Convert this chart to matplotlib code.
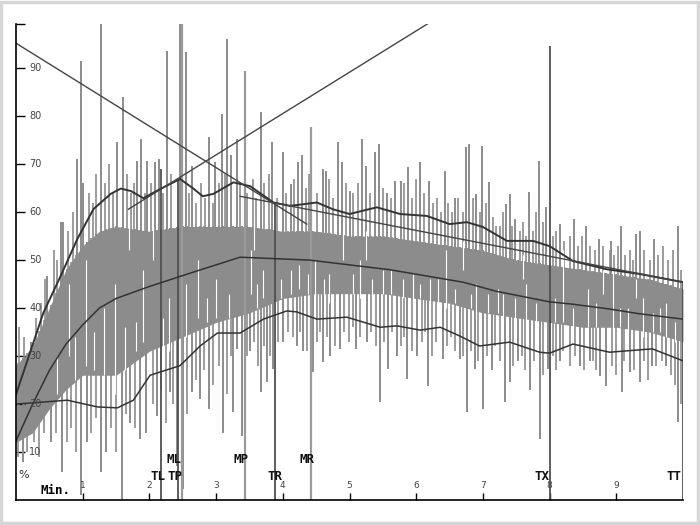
import matplotlib
matplotlib.use("Agg")
import matplotlib.pyplot as plt
import numpy as np
from matplotlib.patches import Rectangle

# smoothed curves (minutes, %)
upper_t = [0.0, 0.41, 0.67, 0.92, 1.16, 1.42, 1.57, 1.72, 1.91, 2.16, 2.46, 2.65, 2.80, 2.96, 3.26,
           3.51, 3.86, 4.11, 4.51, 4.75, 5.0, 5.41, 5.76, 6.16, 6.5, 6.76, 7.0, 7.36, 7.75, 8.0,
           8.35, 8.85, 9.35, 10.0]
upper_v = [22.0, 39.0, 46.7, 54.4, 60.6, 63.8, 64.9, 64.4, 62.9, 64.8, 66.9, 65.0, 63.3, 63.8, 66.2,
           65.4, 62.0, 61.3, 62.0, 60.6, 59.6, 61.0, 59.6, 59.2, 57.5, 57.9, 56.9, 54.0, 54.0, 52.9,
           49.8, 48.1, 47.1, 45.4]

mean_t = [0.0, 0.25, 0.5, 0.75, 1.0, 1.25, 1.5, 2.0, 2.66, 3.36, 4.4, 5.6, 6.7, 7.2, 8.0, 8.35,
          8.9, 9.35, 10.0]
mean_v = [12.3, 20.0, 27.0, 32.5, 36.5, 40.0, 42.0, 44.5, 47.5, 50.6, 50.0, 48.0, 45.4, 43.5, 41.3,
          40.8, 39.8, 38.8, 37.7]

lower_t = [0.0, 0.4, 0.77, 1.22, 1.52, 1.76, 2.01, 2.46, 2.76, 3.02, 3.36, 3.71, 4.06, 4.21, 4.51,
           4.96, 5.2, 5.46, 5.71, 6.06, 6.36, 6.65, 6.95, 7.4, 7.85, 8.0, 8.35, 8.9, 9.54, 10.0]
lower_v = [20.0, 20.4, 20.8, 19.4, 19.2, 20.8, 26.0, 28.0, 32.1, 34.8, 34.8, 37.7, 39.4, 39.2, 37.7,
           38.1, 37.1, 36.0, 36.3, 35.4, 36.0, 34.2, 32.1, 32.9, 30.8, 30.6, 32.5, 30.8, 31.5, 29.0]

# straight trend lines
trend_down = ([0.0, 4.36], [95.2, 57.5])
trend_up = ([1.685, 6.19], [60.6, 99.4])
trend_late = ([3.36, 10.0], [63.3, 45.4])

# dense part of the signal
core_t = [0, 0.25, 0.5, 0.75, 1.0, 1.25, 1.5, 2, 2.5, 3, 3.5, 4, 4.5, 5, 5.5, 6, 6.5, 7, 7.5,
          8, 8.5, 9, 9.5, 10]
core_hi = [28, 32, 40, 48, 53, 56, 57, 56, 57, 57, 57, 56, 56, 55, 55, 54, 53, 52, 50, 49, 48,
           47, 46, 44]
core_lo = [12, 14, 19, 23, 26, 26, 26, 31, 34, 37, 39, 42, 43, 43, 43, 42, 41, 39, 38, 37, 36,
           36, 35, 33]

# big signal peaks (minute, %)
peak_t = [0.22, 0.47, 0.67, 0.7, 0.92, 0.98, 1.01, 1.27, 1.52, 1.6, 1.82, 1.88, 1.97, 2.09, 2.15,
          2.26, 2.46, 2.55, 2.64, 2.9, 2.99, 3.09, 3.17, 3.22, 3.31, 3.67, 3.84, 4.0, 4.12, 4.23,
          4.29, 4.6, 4.65, 4.83, 4.89, 5.0, 5.19, 5.25, 5.38, 5.44, 5.56, 5.68, 5.77, 5.88, 6.06,
          6.19, 6.43, 6.58, 6.74, 6.79, 6.9, 6.99, 7.09, 7.34, 7.4, 7.48, 7.69, 7.84, 7.95, 8.15,
          8.36, 8.54, 8.74, 8.92, 9.07, 9.3, 9.35, 9.57, 9.92]
peak_v = [33, 46.7, 58, 58, 71, 91.5, 66, 99.4, 74.6, 84, 70.6, 75.2, 70.6, 70.4, 71,
          93.5, 99.4, 93.3, 69.6, 75.6, 70.4, 80.4, 96, 72, 75.2, 80.8, 74.6, 72.5, 65.8, 70.4,
          72, 69, 68.5, 74.6, 70.4, 64.5, 75.2, 69.6, 72.5, 74.2, 64, 66.5, 66.5, 69.4, 70.4,
          66.5, 68.5, 63, 73.5, 74.2, 63.8, 73.8, 66.3, 61.7, 63.8, 58.5, 64.2, 70.6, 61, 57.5,
          58.5, 57, 54.4, 54, 57, 55.4, 56, 54.4, 57]

# smaller peaks filling the band
minor_peak_t = [0.05, 0.12, 0.3, 0.37, 0.44, 0.57, 0.62, 0.78, 0.85, 1.1, 1.15, 1.2, 1.33, 1.4,
                1.45, 1.66, 1.72, 1.77, 1.93, 2.03, 2.2, 2.33, 2.6, 2.7, 2.77, 2.84, 2.95, 3.04,
                3.13, 3.36, 3.47, 3.55, 3.6, 3.72, 3.79, 3.92, 4.05, 4.17, 4.35, 4.4, 4.52, 4.7,
                4.76, 4.95, 5.05, 5.13, 5.31, 5.5, 5.62, 5.82, 5.93, 6.0, 6.12, 6.25, 6.31, 6.37,
                6.48, 6.53, 6.63, 6.7, 6.85, 6.95, 7.04, 7.15, 7.2, 7.25, 7.3, 7.44, 7.55, 7.6,
                7.65, 7.75, 7.8, 7.9, 8.05, 8.1, 8.22, 8.3, 8.42, 8.48, 8.6, 8.68, 8.8, 8.9, 8.97,
                9.02, 9.13, 9.2, 9.25, 9.42, 9.5, 9.62, 9.7, 9.78, 9.85, 9.97]
minor_peak_v = [36, 34, 38, 41, 46, 52, 50, 56, 60, 64, 62, 68, 66, 70,
                64, 68, 64, 66, 64, 66, 64, 68, 64, 62, 66, 63, 62, 66,
                68, 66, 64, 67, 63, 66, 68, 63, 64, 67, 65, 68, 64, 67,
                63, 66, 64, 66, 64, 65, 63, 66, 63, 67, 64, 62, 63, 60,
                62, 60, 63, 60, 63, 60, 62, 59, 57, 57, 60, 57, 56, 58,
                55, 56, 60, 58, 55, 56, 54, 55, 53, 55, 53, 52, 53, 52, 51,
                53, 51, 52, 50, 52, 50, 51, 53, 50, 52, 48]

# signal troughs (minute, %)
dip_t = [0.1, 0.52, 0.69, 0.97, 1.06, 1.27, 1.35, 1.59, 1.71, 1.86, 1.95, 2.11, 2.31, 2.42, 2.51,
         2.64, 2.76, 2.89, 3.11, 3.26, 3.31, 3.39, 3.43, 3.51, 3.67, 3.76, 3.86, 4.0, 4.21, 4.3,
         4.45, 4.6, 4.71, 4.86, 5.1, 5.26, 5.46, 5.58, 5.71, 5.86, 6.01, 6.18, 6.4, 6.65, 6.76,
         6.88, 7.0, 7.13, 7.33, 7.4, 7.52, 7.7, 7.85, 7.97, 8.15, 8.45, 8.6, 8.75, 8.85, 9.08,
         9.2, 9.35, 9.53, 9.75, 9.92]
dip_v = [8, 12, 5.8, 1, 12, 5.8, 10, 0.2, 16, 12.7, 14, 17.5, 22.5, 7, 2.3,
         22.5, 21, 19, 14, 18.3, 31.5, 13.3, 23.8, 31, 22.5, 24.6, 27.3, 33, 32, 31,
         26.7, 28.8, 30, 31.5, 31.5, 33, 20.4, 27.3, 30, 25.2, 30, 23.8, 29.4, 29.4, 18.3,
         27.3, 19, 27, 20.4, 24.6, 29, 23, 12.7, 27.3, 29, 28, 29, 25.8, 23.8, 22.5,
         26.7, 24.6, 28, 28, 16.25]

minor_dip_t = [0.03, 0.16, 0.27, 0.35, 0.42, 0.6, 0.76, 0.83, 0.9, 1.13, 1.2, 1.42, 1.5, 1.65,
               1.78, 2.05, 2.18, 2.25, 2.36, 2.57, 2.7, 2.82, 2.95, 3.05, 3.17, 3.22, 3.47, 3.57,
               3.63, 3.72, 3.81, 3.93, 4.08, 4.15, 4.26, 4.36, 4.52, 4.56, 4.67, 4.78, 4.92, 4.99,
               5.05, 5.16, 5.32, 5.39, 5.52, 5.64, 5.77, 5.82, 5.93, 6.08, 6.13, 6.24, 6.3, 6.46,
               6.52, 6.58, 6.7, 6.82, 6.93, 7.06, 7.18, 7.25, 7.45, 7.58, 7.63, 7.76, 7.9, 8.05,
               8.1, 8.2, 8.3, 8.38, 8.52, 8.65, 8.7, 8.93, 9.0, 9.12, 9.27, 9.42, 9.48, 9.6, 9.68,
               9.82, 9.88, 9.97]
minor_dip_v = [9, 10, 12, 9, 14, 14, 12, 15, 10, 14, 17, 15, 10, 18,
               15, 20, 23, 16, 20, 18, 25, 27, 24, 28, 22, 30, 30, 33,
               28, 32, 30, 33, 35, 34, 35, 31, 33, 35, 34, 32, 35, 33,
               36, 34, 35, 32, 33, 35, 32, 34, 31, 33, 35, 30, 33, 32,
               34, 31, 30, 31, 29, 30, 32, 29, 28, 30, 27, 29, 26, 30,
               27, 31, 28, 30, 27, 29, 27, 28, 26, 29, 27, 29, 25, 28, 29,
               26, 24, 20]

# white gaps inside the dense band (minute, from %, to %)
gap_t = [0.8, 1.05, 1.32, 1.48, 1.7, 1.9, 2.05, 2.3, 2.55, 2.73, 3.0, 3.52, 3.57, 3.7, 4.24,
         4.48, 4.7, 4.9, 5.15, 5.25, 5.62, 5.95, 6.2, 6.45, 6.7, 6.9, 7.3, 7.6, 7.65, 8.2, 8.58,
         8.8, 8.95, 9.3, 9.4, 9.75,
         0.62, 0.88, 1.17, 1.63, 1.8, 2.2, 2.86, 3.2, 3.62, 3.98, 4.12, 4.38, 4.62, 5.05, 5.34,
         5.5, 5.8, 6.06, 6.33, 6.58, 6.82, 7.08, 7.22, 7.48, 7.8, 8.08, 8.35, 8.7, 9.05, 9.18,
         9.55, 9.65, 9.88]
gap_lo = [30, 28, 26, 22, 52, 33, 50, 31, 34, 38, 38, 43, 52, 42, 44,
          42, 41, 50, 42, 50, 43, 41, 40, 40, 48, 38, 37, 46, 36, 37, 36,
          43, 35, 42, 34, 34,
          22, 25, 27, 27, 31, 32, 37, 38, 40, 42, 43, 43, 43, 43, 43,
          43, 42, 42, 41, 41, 40, 39, 39, 38, 37, 37, 36, 36, 36, 35,
          35, 35, 33]
gap_hi = [45, 50, 40, 45, 58, 48, 57, 42, 45, 50, 46, 52, 58, 48, 49,
          50, 47, 56, 50, 56, 48, 47, 46, 52, 54, 45, 43, 51, 45, 52, 44,
          48, 48, 46, 42, 41,
          30, 34, 35, 36, 37, 38, 42, 43, 45, 46, 48, 47, 46, 47, 46,
          48, 46, 45, 46, 44, 43, 43, 44, 42, 41, 42, 40, 41, 40, 40,
          39, 40, 37]

# event markers: name, minute, top of line (%), dark line?, label row
marker_names = ["TL", "TP", "ML", "MP", "TR", "MR", "TX", "TT"]
marker_t = [2.18, 2.43, 2.49, 3.43, 3.88, 4.43, 8.0, 10.0]
marker_top = [69.0, 67.0, 99.4, 89.4, 62.0, 77.7, 94.6, 45.4]
marker_dark = [True, True, False, False, True, False, True, True]
label_t = [2.126, 2.38, 2.373, 3.38, 3.89, 4.36, 7.89, 9.87]
label_row = [0, 0, 1, 1, 0, 1, 0, 0]

SIG = "#8c8c8c"
CURVE = "#333333"

fig = plt.figure(figsize=(7, 5.25), dpi=100)
fig.patches.append(Rectangle((0.002, 0.003), 0.995, 0.994, transform=fig.transFigure,
                             fill=False, edgecolor="#d6d6d6", lw=2.5))
ax = fig.add_axes([16 / 700, 25 / 525, 667 / 700, 476 / 525])
ax.set_xlim(0, 10)
ax.set_ylim(0, 99.2)

# spikes start inside the dense band
ax.fill_between(core_t, core_lo, core_hi, color=SIG, lw=0)
ax.vlines(peak_t, np.interp(peak_t, core_t, core_lo), peak_v, color=SIG, lw=1.4)
ax.vlines(minor_peak_t, np.interp(minor_peak_t, core_t, core_lo), minor_peak_v, color=SIG, lw=1.2)
ax.vlines(dip_t, dip_v, np.interp(dip_t, core_t, core_hi), color=SIG, lw=1.4)
ax.vlines(minor_dip_t, minor_dip_v, np.interp(minor_dip_t, core_t, core_hi), color=SIG, lw=1.2)
ax.vlines(gap_t, gap_lo, gap_hi, color="white", lw=0.8)

for name, t, top, dark in zip(marker_names, marker_t, marker_top, marker_dark):
    ax.vlines(t, 0, top, color="#505050" if dark else "#9a9a9a", lw=1.3 if dark else 1.6)

ax.plot(upper_t, upper_v, color=CURVE, lw=1.4)
ax.plot(mean_t, mean_v, color=CURVE, lw=1.1)
ax.plot(lower_t, lower_v, color=CURVE, lw=1.1)
for xs, ys in (trend_down, trend_up, trend_late):
    ax.plot(xs, ys, color="#444444", lw=1.0)

for name, t, row in zip(marker_names, label_t, label_row):
    ax.text(t, 8.5 if row else 5.0, name, ha="center", va="center", fontsize=9,
            family="DejaVu Sans Mono", weight="bold", color="#111111")

# axes in the old plotter style: labels inside the frame
for s in ("top", "right"):
    ax.spines[s].set_visible(False)
for s in ("left", "bottom"):
    ax.spines[s].set_linewidth(1.2)
ax.set_yticks([10, 20, 30, 40, 50, 60, 70, 80, 90, 99.2])
ax.set_xticks(range(1, 10))
ax.tick_params(axis="y", direction="in", length=6.5, width=1, labelleft=False)
ax.tick_params(axis="x", direction="in", length=5, width=1, labelbottom=False)
for v in range(10, 100, 10):
    ax.text(0.2, v, str(v), ha="left", va="center", fontsize=7, color="#444444")
for m in range(1, 10):
    ax.text(m, 3.0, str(m), ha="center", va="center", fontsize=6.5, color="#444444")
ax.text(0.36, 1.9, "Min.", ha="left", va="center", fontsize=9, family="DejaVu Sans Mono",
        weight="bold")
ax.text(0.04, 5.2, "%", ha="left", va="center", fontsize=8, color="#333333")

fig.savefig("out.png", dpi=100)
